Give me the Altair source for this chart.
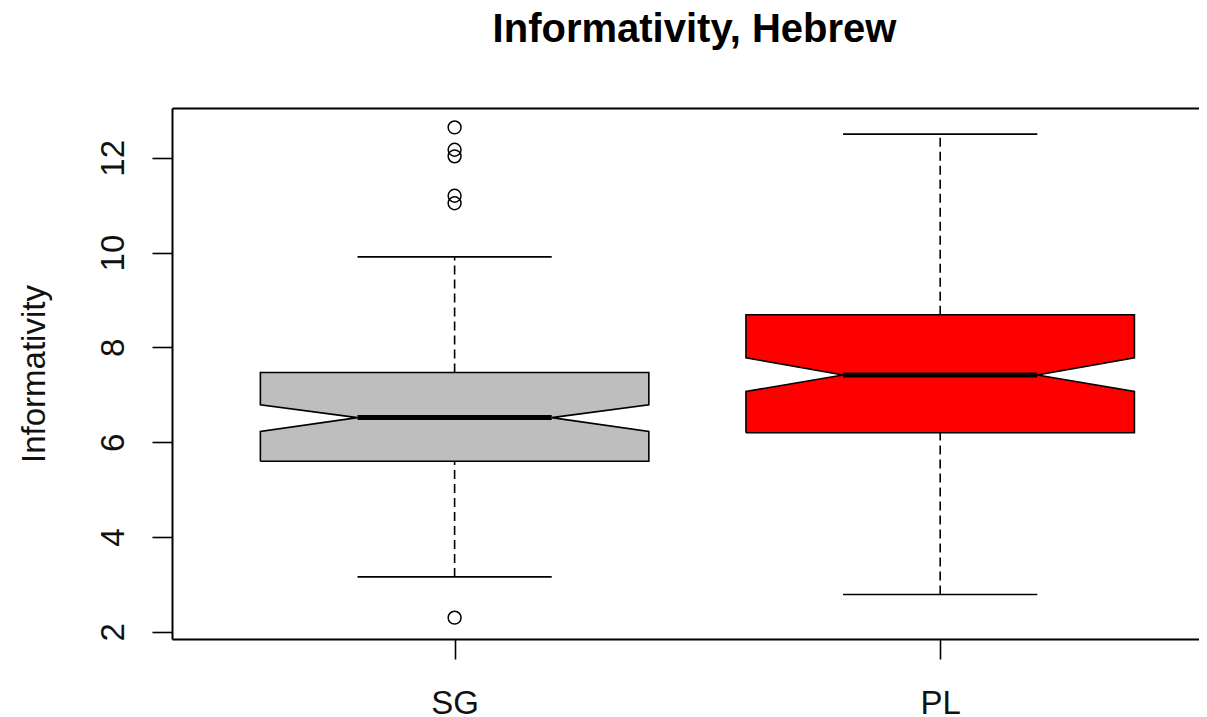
import json
import altair as alt
import pandas as pd

# ---- data ----
groups = ["SG", "PL"]
box_colors = ["#BEBEBE", "#FF0000"]
q1 = [5.60, 6.20]
median = [6.52, 7.42]
q3 = [7.47, 8.69]
notch_lo = [6.23, 7.07]
notch_hi = [6.79, 7.78]
whisker_lo = [3.16, 2.79]
whisker_hi = [9.91, 12.50]
outlier_groups = ["SG", "SG", "SG", "SG", "SG", "SG"]
outlier_values = [12.64, 12.17, 12.03, 11.20, 11.04, 2.30]

# ---- style constants ----
BOX_HALF = 0.4
NOTCH_HALF = 0.2
STAPLE_HALF = 0.2
FONT = "Liberation Sans"
LW = 1.6

pos = {g: i + 1 for i, g in enumerate(groups)}

# filled box pieces (upper and lower part around the notch)
fill_rows = []
for i, g in enumerate(groups):
    c = pos[g]
    xs = [c - BOX_HALF, c - NOTCH_HALF, c + NOTCH_HALF, c + BOX_HALF]
    up_bot = [notch_hi[i], median[i], median[i], notch_hi[i]]
    lo_top = [notch_lo[i], median[i], median[i], notch_lo[i]]
    for x, b in zip(xs, up_bot):
        fill_rows.append({"group": g, "key": g + "_u", "x": x, "top": q3[i], "bot": b})
    for x, t in zip(xs, lo_top):
        fill_rows.append({"group": g, "key": g + "_l", "x": x, "top": t, "bot": q1[i]})
fill_df = pd.DataFrame(fill_rows)

# outline polygon of each notched box
outline_rows = []
for i, g in enumerate(groups):
    c = pos[g]
    pts = [
        (c - BOX_HALF, q1[i]), (c - BOX_HALF, notch_lo[i]), (c - NOTCH_HALF, median[i]),
        (c - BOX_HALF, notch_hi[i]), (c - BOX_HALF, q3[i]), (c + BOX_HALF, q3[i]),
        (c + BOX_HALF, notch_hi[i]), (c + NOTCH_HALF, median[i]), (c + BOX_HALF, notch_lo[i]),
        (c + BOX_HALF, q1[i]), (c - BOX_HALF, q1[i]),
    ]
    for k, (x, y) in enumerate(pts):
        outline_rows.append({"group": g, "idx": k, "x": x, "y": y})
outline_df = pd.DataFrame(outline_rows)

stats_df = pd.DataFrame({
    "group": groups,
    "pos": [pos[g] for g in groups],
    "q1": q1, "q3": q3, "median": median,
    "wlo": whisker_lo, "whi": whisker_hi,
})
stats_df["nl"] = stats_df["pos"] - NOTCH_HALF
stats_df["nr"] = stats_df["pos"] + NOTCH_HALF
stats_df["sl"] = stats_df["pos"] - STAPLE_HALF
stats_df["sr"] = stats_df["pos"] + STAPLE_HALF

out_df = pd.DataFrame({"group": outlier_groups, "value": outlier_values})
out_df["pos"] = out_df["group"].map(pos)

xscale = alt.Scale(domain=[0.418, 2.533], nice=False, zero=False)
yscale = alt.Scale(domain=[1.85, 13.05], nice=False, zero=False)
label_expr = json.dumps(groups) + "[datum.value - 1]"

x_axis = alt.Axis(values=[1, 2], labelExpr=label_expr, title=None, tickSize=20,
                  labelPadding=54, labelBaseline="alphabetic", labelFontSize=33,
                  labelFont=FONT, domainWidth=2, tickWidth=LW, labelColor="#111111")
y_axis = alt.Axis(values=[2, 4, 6, 8, 10, 12], title="Informativity", tickSize=20,
                  labelAngle=270, labelAlign="center", labelBaseline="alphabetic",
                  labelPadding=29, labelFontSize=33, labelFont=FONT, domainWidth=2,
                  tickWidth=LW, labelColor="#111111",
                  titleFont=FONT, titleFontSize=33, titleFontWeight="normal",
                  titleAngle=270, titleAlign="center", titleBaseline="alphabetic",
                  titleX=-128, titleY=265.5, titleColor="#111111")
top_axis = alt.Axis(orient="top", labels=False, ticks=False, title=None, domainWidth=2)


def Y(field):
    return alt.Y(field, scale=yscale, axis=y_axis)


fills = alt.Chart(fill_df).mark_area(opacity=1, strokeWidth=0).encode(
    x=alt.X("x:Q", scale=xscale, axis=x_axis),
    y=Y("top:Q"),
    y2="bot:Q",
    detail="key:N",
    color=alt.Color("group:N", scale=alt.Scale(domain=groups, range=box_colors), legend=None),
)

outline = alt.Chart(outline_df).mark_line(color="black", strokeWidth=LW, strokeJoin="miter").encode(
    x=alt.X("x:Q", scale=xscale, axis=top_axis),
    y=Y("y:Q"),
    order="idx:Q",
    detail="group:N",
)

whisk_up = alt.Chart(stats_df).mark_rule(color="black", strokeWidth=LW, strokeDash=[9, 5]).encode(
    x=alt.X("pos:Q", scale=xscale, axis=None),
    y=Y("q3:Q"),
    y2="whi:Q",
)
whisk_lo = alt.Chart(stats_df).mark_rule(color="black", strokeWidth=LW, strokeDash=[9, 5]).encode(
    x=alt.X("pos:Q", scale=xscale, axis=None),
    y=Y("wlo:Q"),
    y2="q1:Q",
)
staple_hi = alt.Chart(stats_df).mark_rule(color="black", strokeWidth=LW).encode(
    x=alt.X("sl:Q", scale=xscale, axis=None), x2="sr:Q",
    y=Y("whi:Q"),
)
staple_lo = alt.Chart(stats_df).mark_rule(color="black", strokeWidth=LW).encode(
    x=alt.X("sl:Q", scale=xscale, axis=None), x2="sr:Q",
    y=Y("wlo:Q"),
)
med = alt.Chart(stats_df).mark_rule(color="black", strokeWidth=5, strokeCap="butt").encode(
    x=alt.X("nl:Q", scale=xscale, axis=None), x2="nr:Q",
    y=Y("median:Q"),
)
outliers = alt.Chart(out_df).mark_point(shape="circle", filled=False, size=165, color="black",
                                        strokeWidth=1.5, opacity=1).encode(
    x=alt.X("pos:Q", scale=xscale, axis=None),
    y=Y("value:Q"),
)

chart = alt.layer(
    whisk_up, whisk_lo, staple_hi, staple_lo, fills, outline, med, outliers
).resolve_axis(x="independent").properties(
    width=1027,
    height=531,
    padding={"left": 164, "top": 100, "right": 0, "bottom": 77},
    autosize="none",
    title=alt.TitleParams(
        "Informativity, Hebrew", font=FONT, fontSize=40, fontWeight="bold",
        anchor="middle", frame="group", baseline="alphabetic", offset=26, dx=9,
        color="black",
    ),
).configure_view(stroke=None).configure_axis(
    grid=False, domainColor="black", tickColor="black",
)

chart.save("out.html", embed_options={"renderer": "svg", "actions": False})
